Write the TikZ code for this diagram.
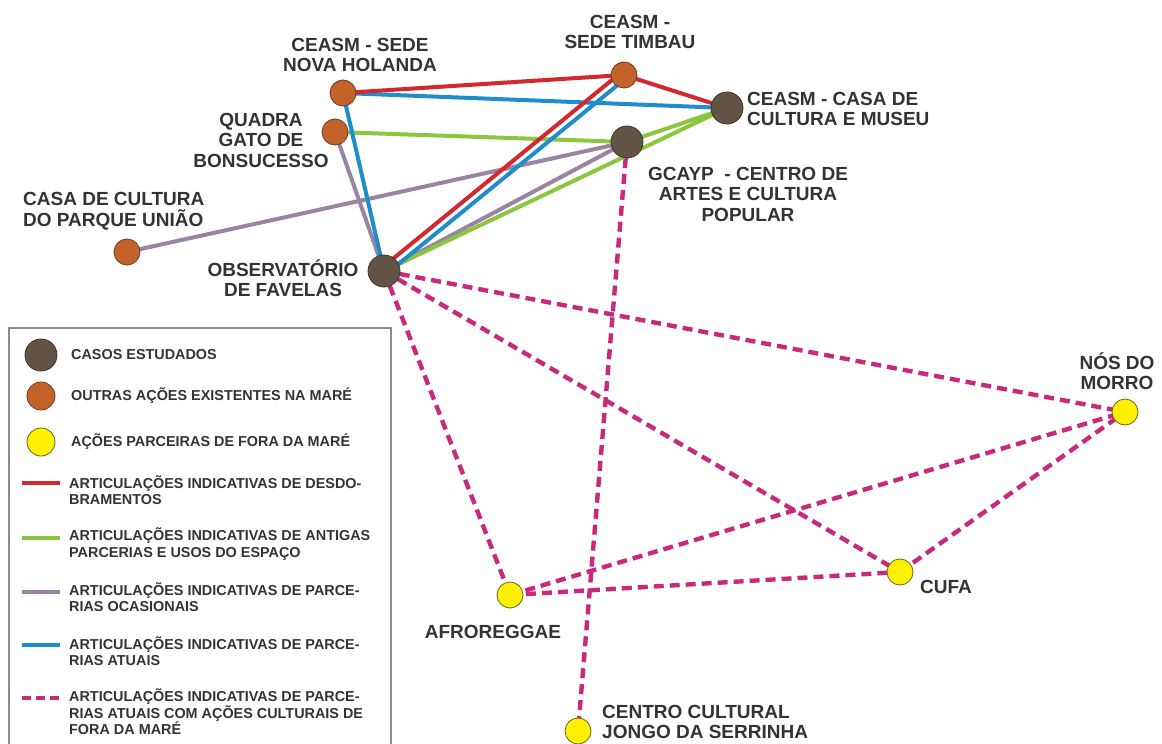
\documentclass[tikz,border=0pt]{standalone}
\usepackage{fontspec}
\setmainfont{Liberation Sans}
\definecolor{txt}{HTML}{333333}
\definecolor{casec}{HTML}{615446}
\definecolor{casedk}{HTML}{3E352C}
\definecolor{othc}{HTML}{C4622B}
\definecolor{othdk}{HTML}{6E3A1E}
\definecolor{yel}{HTML}{FFF000}
\definecolor{yeldk}{HTML}{6A6420}
\definecolor{redl}{HTML}{D3282E}
\definecolor{greenl}{HTML}{8CC63F}
\definecolor{purpl}{HTML}{9A84A2}
\definecolor{bluel}{HTML}{1F8CCB}
\definecolor{mag}{HTML}{C8297C}
\definecolor{legbd}{HTML}{8A8A8A}
\begin{document}
\begin{tikzpicture}[x=1pt,y=-1pt,
  lab/.style={font=\fontsize{19}{20.5}\selectfont\bfseries, text=txt, inner sep=0pt, align=center},
  leg/.style={font=\fontsize{14.4}{16.5}\selectfont\bfseries, text=txt, inner sep=0pt, align=left, anchor=west},
  casenode/.style={circle, fill=casec, draw=casedk, line width=0.8pt, minimum size=32pt, inner sep=0pt},
  othnode/.style={circle, fill=othc, draw=othdk, line width=0.8pt, minimum size=26pt, inner sep=0pt},
  extnode/.style={circle, fill=yel, draw=yeldk, line width=0.8pt, minimum size=26pt, inner sep=0pt},
  lk/.style={line width=4pt},
  dlk/.style={line width=4.4pt, color=mag, dash pattern=on 10pt off 6pt},
]
\useasboundingbox (0,0) rectangle (1162,744);
\fill[white] (0,0) rectangle (1162,744);
\clip (0,0) rectangle (1162,744);

% nodes (positions)
\coordinate (obs) at (384,271);
\coordinate (nh) at (343,93);
\coordinate (quadra) at (335,132);
\coordinate (timbau) at (624,75);
\coordinate (casa) at (727,108);
\coordinate (gcayp) at (627,142);
\coordinate (parque) at (127,252);
\coordinate (afro) at (510,595);
\coordinate (cufa) at (900,572);
\coordinate (nos) at (1125,412);
\coordinate (jongo) at (578,731);

% dashed links
\draw[dlk] (obs) -- (afro);
\draw[dlk] (obs) -- (cufa);
\draw[dlk] (obs) -- (nos);
\draw[dlk] (gcayp) -- (jongo);
\draw[dlk] (afro) -- (nos);
\draw[dlk] (afro) -- (cufa);
\draw[dlk] (cufa) -- (nos);

% solid links
\draw[lk, purpl] (quadra) -- (obs);
\draw[lk, purpl] (parque) -- (gcayp);
\draw[lk, purpl] (obs) -- (gcayp);
\draw[lk, greenl] (quadra) -- (gcayp);
\draw[lk, greenl] (gcayp) -- (casa);
\draw[lk, greenl] (obs) -- (casa);
\draw[lk, bluel] (nh) -- (casa);
\draw[lk, bluel] (nh) -- (obs);
\draw[lk, redl] (nh) -- (timbau);
\draw[lk, redl] (timbau) -- (casa);
\draw[lk, redl] ([shift={(-2.4,-2.9)}]obs) -- ([shift={(-2.4,-2.9)}]timbau);
\draw[lk, bluel] ([shift={(2.4,2.9)}]obs) -- ([shift={(2.4,2.9)}]timbau);

% circles
\node[casenode] (nobs) at (obs) {};
\node[casenode] (ncasa) at (casa) {};
\node[casenode] (ngcayp) at (gcayp) {};
\node[othnode] (nnh) at (nh) {};
\node[othnode] (nquadra) at (quadra) {};
\node[othnode] (ntimbau) at (timbau) {};
\node[othnode] (nparque) at (parque) {};
\node[extnode] (nafro) at (afro) {};
\node[extnode] (ncufa) at (cufa) {};
\node[extnode] (nnos) at (nos) {};
\node[extnode] (njongo) at (jongo) {};

% labels
\node[lab] (lnh) at (360,55) {CEASM - SEDE\\NOVA HOLANDA};
\node[lab] (ltimbau) at (630,32) {CEASM -\\SEDE TIMBAU};
\node[lab, align=left, anchor=west] (lcasa) at (747,109) {CEASM - CASA DE\\CULTURA E MUSEU};
\node[lab] (lquadra) at (261,140) {QUADRA\\GATO DE\\BONSUCESSO};
\node[lab] (lgcayp) at (748,194) {GCAYP\ \ - CENTRO DE\\ARTES E CULTURA\\POPULAR};
\node[lab, align=left, anchor=west] (lparque) at (23,211) {CASA DE CULTURA\\DO PARQUE UNIÃO};
\node[lab] (lobs) at (283,278) {OBSERVATÓRIO\\DE FAVELAS};
\node[lab] (lnos) at (1117,371) {NÓS DO\\MORRO};
\node[lab, anchor=west] (lcufa) at (920,587) {CUFA};
\node[lab] (lafro) at (493,632) {AFROREGGAE};
\node[lab, align=left, anchor=west] (ljongo) at (602,722) {CENTRO CULTURAL\\JONGO DA SERRINHA};

% legend
\draw[legbd, line width=1.2pt] (9,328) rectangle (391,770);
\node[casenode] (g1) at (41,355) {};
\node[leg] (t1) at (71,355) {CASOS ESTUDADOS};
\node[othnode, minimum size=28pt] (g2) at (41,396) {};
\node[leg] (t2) at (71,396) {OUTRAS AÇÕES EXISTENTES NA MARÉ};
\node[extnode, minimum size=28pt] (g3) at (41,442) {};
\node[leg] (t3) at (71,442) {AÇÕES PARCEIRAS DE FORA DA MARÉ};
\coordinate (a4) at (22,483); \coordinate (b4) at (60,483);
\draw[lk, redl] (a4) -- (b4);
\node[leg] (t4) at (69,490) {ARTICULAÇÕES INDICATIVAS DE DESDO-\\BRAMENTOS};
\coordinate (a5) at (22,538); \coordinate (b5) at (60,538);
\draw[lk, greenl] (a5) -- (b5);
\node[leg] (t5) at (69,544) {ARTICULAÇÕES INDICATIVAS DE ANTIGAS\\PARCERIAS E USOS DO ESPAÇO};
\coordinate (a6) at (22,592); \coordinate (b6) at (60,592);
\draw[lk, purpl] (a6) -- (b6);
\node[leg] (t6) at (69,597) {ARTICULAÇÕES INDICATIVAS DE PARCE-\\RIAS OCASIONAIS};
\coordinate (a7) at (22,645); \coordinate (b7) at (60,645);
\draw[lk, bluel] (a7) -- (b7);
\node[leg] (t7) at (69,651) {ARTICULAÇÕES INDICATIVAS DE PARCE-\\RIAS ATUAIS};
\coordinate (a8) at (22,698); \coordinate (b8) at (60,698);
\draw[line width=4pt, mag, dash pattern=on 9pt off 5pt] (a8) -- (b8);
\node[leg] (t8) at (69,712) {ARTICULAÇÕES INDICATIVAS DE PARCE-\\RIAS ATUAIS COM AÇÕES CULTURAIS DE\\FORA DA MARÉ};
\end{tikzpicture}
\end{document}
